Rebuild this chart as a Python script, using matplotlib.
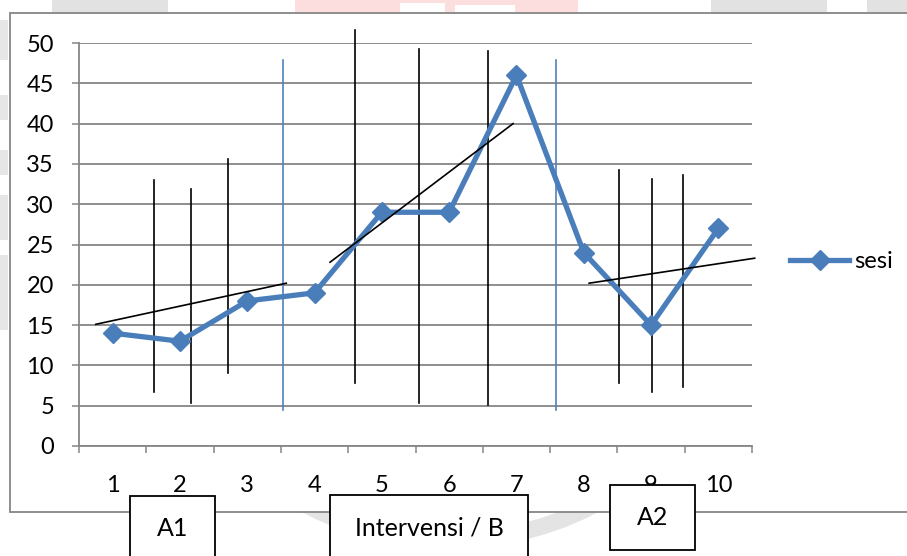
import matplotlib
matplotlib.use("Agg")
import matplotlib.pyplot as plt
from matplotlib.patches import Rectangle, Arc

plt.rcParams['font.family'] = ['Lato', 'DejaVu Sans']

W, H = 907, 556

# session scores
sesi = [1, 2, 3, 4, 5, 6, 7, 8, 9, 10]
skor = [14, 13, 18, 19, 29, 29, 46, 24, 15, 27]

# phase dividers (x, y_bottom, y_top)
phase_x = [3.53, 7.59]
phase_y = (4.5, 47.9)

# hand-drawn black verticals: x, y_bottom, y_top
garis_x = [1.61, 2.16, 2.71, 4.60, 5.55, 6.58, 8.52, 9.01, 9.48]
garis_bawah = [6.7, 5.3, 9.1, 7.8, 5.3, 5.1, 7.8, 6.7, 7.3]
garis_atas = [33.0, 31.9, 35.6, 51.6, 49.3, 49.0, 34.2, 33.1, 33.6]

# trend lines per phase: (x0, y0, x1, y1)
tren = [(0.75, 15.1, 3.58, 20.2),
        (4.23, 22.8, 6.95, 40.0),
        (8.08, 20.2, 10.54, 23.3)]

# phase label boxes in pixels: label, left, top, right, bottom
fase = [("A1", 130, 496, 215, 570),
        ("Intervensi / B", 330, 495, 528, 570),
        ("A2", 610, 485, 695, 550)]

BLUE = '#4A7EBB'
GRID = '#868686'
FS = 17


def fx(px):
    return px / W


def fy(py):
    return 1 - py / H


fig = plt.figure(figsize=(W / 100, H / 100), dpi=100)

# faint watermark bits showing around the chart frame
wm = dict(transform=fig.transFigure, zorder=0, lw=0)
for x0, x1 in [(52, 168), (711, 827), (867, 907)]:
    fig.add_artist(Rectangle((fx(x0), fy(13)), fx(x1 - x0), 13 / H, color='#e2e2e2', **wm))
fig.add_artist(Rectangle((fx(295), fy(13)), fx(283), 13 / H, color='#fcdede', **wm))
fig.add_artist(Rectangle((fx(400), fy(13)), fx(45), 10 / H, color='white', **wm))
fig.add_artist(Rectangle((fx(455), fy(13)), fx(60), 8 / H, color='white', **wm))
for y0, y1 in [(20, 60), (95, 120), (150, 175), (195, 240), (255, 330)]:
    fig.add_artist(Rectangle((0, fy(y1)), fx(8), (y1 - y0) / H, color='#e6e6e6', **wm))
fig.add_artist(Arc((fx(450), fy(330)), fx(520), 420 / H, theta1=200, theta2=340,
                   transform=fig.transFigure, color='#e4e4e4', lw=12, zorder=0))

# chart frame
fig.add_artist(Rectangle((fx(10), fy(512)), fx(920), (512 - 13) / H, transform=fig.transFigure,
                         facecolor='white', edgecolor=GRID, lw=1.3, zorder=0.5))

ax = fig.add_axes([fx(79), fy(446), fx(752 - 79), (446 - 43) / H])
ax.set_zorder(1)
ax.set_facecolor('none')
ax.set_xlim(0.5, 10.5)
ax.set_ylim(0, 50)

ax.set_yticks(range(0, 51, 5))
ax.set_xticks(sesi)
ax.set_xticks([i + 0.5 for i in range(0, 11)], minor=True)
ax.tick_params(axis='x', which='major', length=0, pad=21, labelsize=FS)
ax.tick_params(axis='x', which='minor', length=5, width=1.1, color=GRID, direction='out')
ax.tick_params(axis='y', length=5, width=1.1, color=GRID, pad=13, labelsize=FS)
for s in ['top', 'right']:
    ax.spines[s].set_visible(False)
for s in ['left', 'bottom']:
    ax.spines[s].set_color(GRID)
    ax.spines[s].set_linewidth(1.3)
ax.grid(axis='y', color=GRID, lw=1.3)
ax.set_axisbelow(True)

for x in phase_x:
    ax.plot([x, x], phase_y, color='#4F81BD', lw=1.2, clip_on=False, zorder=2)

for x, y0, y1 in zip(garis_x, garis_bawah, garis_atas):
    ax.plot([x, x], [y0, y1], color='black', lw=1.2, clip_on=False, zorder=2)

for x0, y0, x1, y1 in tren:
    ax.plot([x0, x1], [y0, y1], color='black', lw=1.2, clip_on=False, zorder=4)

ax.plot(sesi, skor, color=BLUE, lw=3.8, marker='D', markersize=10.5,
        label='sesi', zorder=3, clip_on=False)

leg = fig.legend(loc='center left', bbox_to_anchor=(fx(790), fy(262)), frameon=False,
                 fontsize=FS, handlelength=2.5, handletextpad=0.2, borderpad=0,
                 borderaxespad=0)
leg.set_zorder(2)

for teks, x0, y0, x1, y1 in fase:
    fig.add_artist(Rectangle((fx(x0), fy(y1)), fx(x1 - x0), (y1 - y0) / H,
                             transform=fig.transFigure, facecolor='white',
                             edgecolor='black', lw=1.3, zorder=5))
    ty = (y0 + y1) / 2 if y1 <= H else y0 + 33
    fig.text(fx((x0 + x1) / 2), fy(ty), teks, ha='center', va='center',
             fontsize=18, zorder=6)

fig.savefig('out.png', dpi=100)
